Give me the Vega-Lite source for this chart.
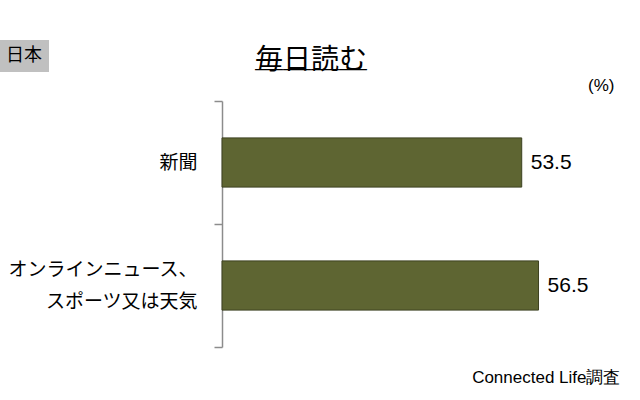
{
  "$schema": "https://vega.github.io/schema/vega-lite/v6.json",
  "width": 400,
  "height": 246,
  "autosize": {"type": "none"},
  "padding": {"left": 222, "top": 101, "right": 18, "bottom": 53},
  "background": "white",
  "title": {
    "text": "毎日読む",
    "subtitle": "＿＿＿＿",
    "anchor": "start",
    "frame": "group",
    "dx": 33,
    "dy": 41,
    "font": "Noto Sans CJK JP",
    "fontSize": 28,
    "fontWeight": "normal",
    "color": "black",
    "subtitleFont": "Noto Sans CJK JP",
    "subtitleFontSize": 28,
    "subtitleColor": "black",
    "subtitlePadding": -30,
    "offset": 4
  },
  "data": {
    "values": [
      {"media": "新聞", "pct": 53.5},
      {"media": "オンラインニュース、|スポーツ又は天気", "pct": 56.5}
    ]
  },
  "encoding": {
    "y": {
      "field": "media",
      "type": "nominal",
      "sort": null,
      "scale": {"paddingInner": 0, "paddingOuter": 0},
      "axis": {
        "title": null,
        "labelExpr": "isValid(datum.value) ? split(datum.value, '|') : ''",
        "labelFont": "Noto Sans CJK JP",
        "labelFontSize": 19,
        "labelColor": "black",
        "labelLineHeight": 32,
        "labelLimit": 300,
        "labelPadding": 17,
        "labelOffset": {"condition": {"test": "isValid(datum.value) && indexof(datum.value, '|') >= 0", "value": -16}, "value": 0},
        "tickSize": 8,
        "tickBand": "extent",
        "tickColor": "#8c8c8c",
        "domainColor": "#8c8c8c",
        "domainWidth": 1.5,
        "tickWidth": 1.5
      }
    },
    "x": {
      "field": "pct",
      "type": "quantitative",
      "scale": {"domain": [0, 71.4], "nice": false}
    }
  },
  "layer": [
    {
      "mark": {"type": "bar", "height": {"band": 0.4}, "stroke": "#3c4120", "strokeWidth": 1},
      "encoding": {
        "x": {
          "field": "pct",
          "type": "quantitative",
          "axis": {
            "orient": "bottom",
            "title": "Connected Life調査",
            "labels": false,
            "ticks": false,
            "domain": false,
            "grid": false,
            "titleFont": "Liberation Sans",
            "titleFontSize": 17,
            "titleFontWeight": "normal",
            "titleColor": "black",
            "titleAnchor": "end",
            "titleAlign": "right",
            "titleX": 398,
            "titleY": 30,
            "titleBaseline": "middle"
          }
        },
        "color": {
          "datum": "日本",
          "type": "nominal",
          "scale": {"range": ["#5e6532"]},
          "legend": {
            "title": null,
            "orient": "none",
            "legendX": -222,
            "legendY": -61,
            "fillColor": "#c0c0c0",
            "padding": 7,
            "symbolSize": 0.01,
            "symbolOpacity": 0,
            "symbolStrokeWidth": 0,
            "labelOffset": -19,
            "labelFont": "Noto Sans CJK JP",
            "labelFontSize": 18,
            "labelColor": "black"
          }
        }
      }
    },
    {
      "mark": {"type": "text", "align": "left", "baseline": "middle", "dx": 9, "font": "Liberation Sans", "fontSize": 21, "color": "black"},
      "encoding": {
        "x": {
          "field": "pct",
          "type": "quantitative",
          "axis": {
            "orient": "top",
            "title": "(%)",
            "labels": false,
            "ticks": false,
            "domain": false,
            "grid": false,
            "titleFont": "Liberation Sans",
            "titleFontSize": 17,
            "titleFontWeight": "normal",
            "titleColor": "black",
            "titleAlign": "right",
            "titleX": 392,
            "titleY": -16,
            "titleBaseline": "middle"
          }
        },
        "text": {"field": "pct", "type": "quantitative", "format": ".1f"}
      }
    }
  ],
  "resolve": {"axis": {"x": "independent"}},
  "config": {"view": {"stroke": null}}
}
